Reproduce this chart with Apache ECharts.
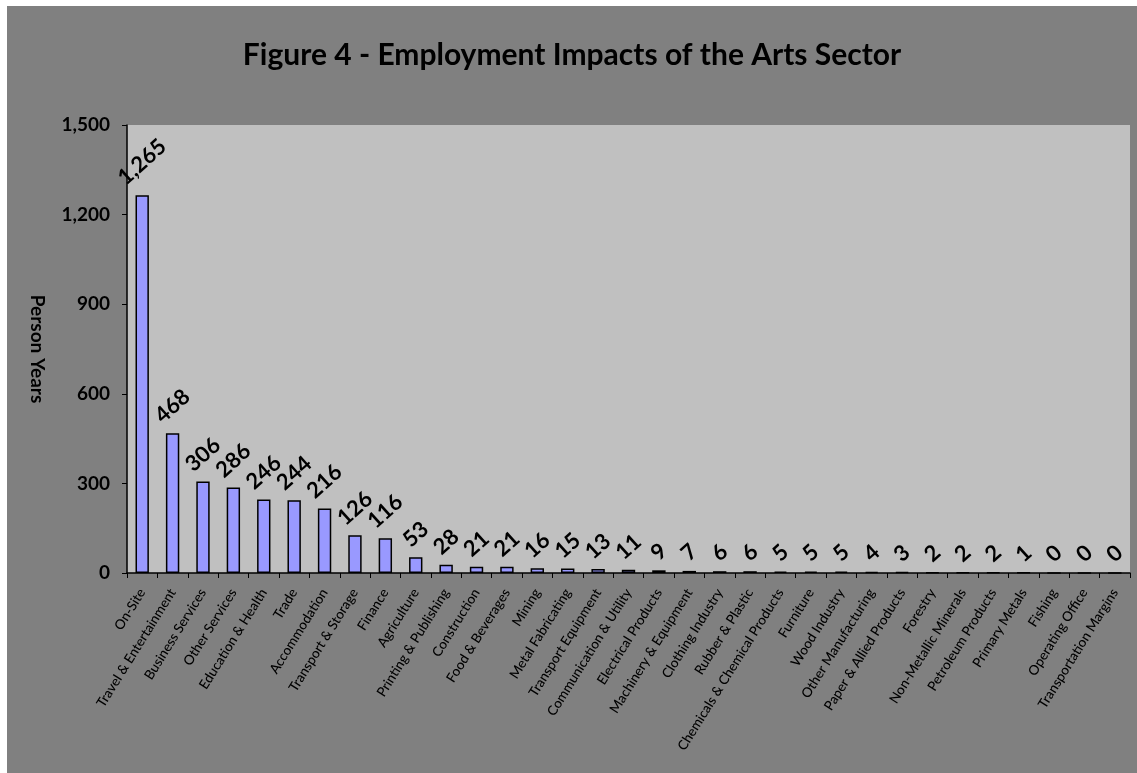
<!DOCTYPE html>
<html>
<head>
<meta charset="utf-8">
<script src="https://cdn.jsdelivr.net/npm/echarts@6/dist/echarts.min.js"></script>
<style>
  html, body { margin: 0; padding: 0; background: #ffffff; width: 1137px; height: 773px; overflow: hidden; }
  #chart { position: absolute; left: 7px; top: 6px; width: 1130px; height: 767px; }
</style>
</head>
<body>
<div id="chart"></div>
<script>
const titleText = 'Figure 4 - Employment Impacts of the Arts Sector';
const yAxisName = 'Person Years';
const categories = [
  'On-Site', 'Travel & Entertainment', 'Business Services', 'Other Services',
  'Education & Health', 'Trade', 'Accommodation', 'Transport & Storage',
  'Finance', 'Agriculture', 'Printing & Publishing', 'Construction',
  'Food & Beverages', 'Mining', 'Metal Fabricating', 'Transport Equipment',
  'Communication & Utility', 'Electrical Products', 'Machinery & Equipment',
  'Clothing Industry', 'Rubber & Plastic', 'Chemicals & Chemical Products',
  'Furniture', 'Wood Industry', 'Other Manufacturing', 'Paper & Allied Products',
  'Forestry', 'Non-Metallic Minerals', 'Petroleum Products', 'Primary Metals',
  'Fishing', 'Operating Office', 'Transportation Margins'
];
const values = [
  1265, 468, 306, 286, 246, 244, 216, 126, 116, 53, 28, 21, 21, 16, 15, 13,
  11, 9, 7, 6, 6, 5, 5, 5, 4, 3, 2, 2, 2, 1, 0, 0, 0
];
const yTicks = [0, 300, 600, 900, 1200, 1500];

function fmt(v) {
  return String(v).replace(/\B(?=(\d{3})+(?!\d))/g, ',');
}

const LABEL_FONT = 22;
const LABEL_ROT = 42;
function labelDistance(v) {
  const s = fmt(v);
  let w = 0;
  for (const ch of s) w += (ch === ',') ? LABEL_FONT * 0.27 : LABEL_FONT * 0.58;
  const r = LABEL_ROT * Math.PI / 180;
  const halfH = (w * Math.sin(r) + LABEL_FONT * Math.cos(r)) / 2;
  return 6 + halfH;
}

const chart = echarts.init(document.getElementById('chart'), null, { renderer: 'canvas' });
chart.setOption({
  backgroundColor: '#808080',
  animation: false,
  title: {
    text: titleText,
    left: 'center',
    top: 29,
    textStyle: { fontFamily: 'Lato', fontWeight: 'bold', fontSize: 30, color: '#000' }
  },
  grid: {
    left: 120, right: 7, top: 119, bottom: 200,
    show: true, backgroundColor: '#c0c0c0', borderWidth: 0
  },
  xAxis: {
    type: 'category',
    data: categories,
    axisLine: { lineStyle: { color: '#000', width: 1.5 } },
    axisTick: { show: true, alignWithLabel: false, length: 5, lineStyle: { color: '#000' } },
    axisLabel: {
      interval: 0, rotate: 58, margin: 17,
      fontFamily: 'Lato', fontWeight: 500, fontSize: 13.5, color: '#000'
    }
  },
  yAxis: {
    type: 'value',
    min: yTicks[0], max: yTicks[yTicks.length - 1], interval: yTicks[1] - yTicks[0],
    name: yAxisName,
    nameLocation: 'middle',
    nameRotate: -90,
    nameGap: 80,
    nameTextStyle: { fontFamily: 'Lato', fontWeight: 'bold', fontSize: 19, color: '#000' },
    axisLine: { show: true, lineStyle: { color: '#000', width: 1.5 } },
    axisTick: { show: true, length: 5, lineStyle: { color: '#000' } },
    splitLine: { show: false },
    axisLabel: {
      margin: 17, formatter: v => fmt(v),
      fontFamily: 'Lato', fontWeight: 'bold', fontSize: 19, color: '#000'
    }
  },
  series: [{
    type: 'bar',
    barWidth: '44%',
    data: values.map(v => ({
      value: v,
      label: { distance: labelDistance(v) }
    })),
    itemStyle: { color: '#9999ff', borderColor: '#000', borderWidth: 1.5 },
    label: {
      show: true,
      position: 'top',
      rotate: LABEL_ROT,
      align: 'center',
      verticalAlign: 'middle',
      formatter: p => fmt(p.value),
      fontFamily: 'Lato', fontWeight: 'bold', fontSize: LABEL_FONT, color: '#000'
    }
  }]
});
</script>
</body>
</html>
